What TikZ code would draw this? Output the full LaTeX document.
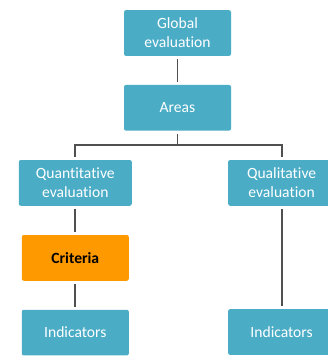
\documentclass[tikz,border=0pt]{standalone}
\usepackage{fontspec}
\setmainfont{Carlito}[Ligatures=NoCommon]

\definecolor{boxblue}{HTML}{4BACC6}
\definecolor{boxorange}{HTML}{FF9900}
\definecolor{linegray}{HTML}{505050}

\tikzset{
  evalbox/.style={fill=boxblue, text=white, rounded corners=2pt, inner sep=0pt,
    minimum width=107pt, minimum height=45.7pt, align=center,
    font=\fontsize{15.6}{19}\selectfont},
  critbox/.style={evalbox, fill=boxorange, text=black, font=\fontsize{15.6}{19}\selectfont\bfseries},
  link/.style={linegray, line width=1.8pt, shorten <=3pt, shorten >=3pt}
}

\begin{document}
\begin{tikzpicture}[x=1pt, y=-1pt]

\useasboundingbox (0,0) rectangle (328,357);

\node [evalbox] (global) at (177.5, 33)   {Global\\evaluation};
\node [evalbox] (areas)  at (177.5, 107.8) {Areas};
\node [evalbox, minimum width=113pt] (quant) at (75.3, 182.9) {Quantitative\\evaluation};
\node [evalbox] (quali)  at (281.6, 182.9) {Qualitative\\evaluation};
\node [critbox] (crit)   at (75.3, 257.9) {Criteria};
\node [evalbox] (indleft)  at (75.3, 332.6) {Indicators};
\node [evalbox] (indright) at (281.6, 332) {Indicators};

\coordinate (split) at (177.5, 145);

% -------- connectors -----------
\draw [link] (global) -- (areas);
\draw [link, shorten >=0pt] (areas) -- (split);
\draw [link] (quant.north) |- (split) -| (quali.north);
\draw [link] (quant) -- (crit);
\draw [link] (crit) -- (indleft);
\draw [link] (quali) -- (indright);

\end{tikzpicture}
\end{document}
